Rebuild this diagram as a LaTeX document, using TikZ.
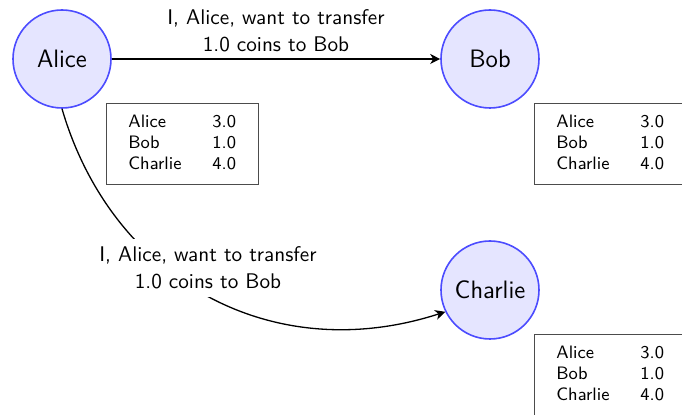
\documentclass[tikz,border=0pt]{standalone}
\usetikzlibrary{arrows.meta}
\begin{document}
\begin{tikzpicture}[x=0.5pt,y=-0.5pt,
  party/.style={circle, draw=blue!70, fill=blue!10, line width=0.8pt,
    minimum size=49pt, inner sep=0pt, font=\sffamily\fontsize{12.6}{15}\selectfont},
  ledgerbox/.style={draw=black!70, line width=0.5pt, minimum width=76pt,
    minimum height=40.5pt, inner sep=0pt, anchor=north west},
  ledgertext/.style={anchor=west, inner sep=0pt,
    font=\sffamily\fontsize{9}{10.5}\selectfont},
  msg/.style={align=center, inner sep=2pt,
    font=\sffamily\fontsize{10.6}{13.5}\selectfont},
  transfer/.style={line width=0.65pt, -{Stealth[length=5pt,width=5pt,inset=1.5pt]}}
]
\useasboundingbox (0,0) rectangle (682,415);
\clip (0,0) rectangle (682,415);

\newcommand{\ledger}{%
  \begin{tabular}{@{}p{42pt}@{}l@{}}
    Alice & 3.0\\
    Bob & 1.0\\
    Charlie & 4.0
  \end{tabular}}

% participants
\node[party] (alice) at (62,59) {Alice};
\node[party] (bob) at (490,59) {Bob};
\node[party] (charlie) at (490,290) {Charlie};

% local ledgers
\node[ledgerbox] (ledA) at (106,103) {};
\node[ledgertext] (ledAt) at ([xshift=11pt]ledA.west) {\ledger};
\node[ledgerbox] (ledB) at (534,103) {};
\node[ledgertext] (ledBt) at ([xshift=11pt]ledB.west) {\ledger};
\node[ledgerbox] (ledC) at (534,334) {};
\node[ledgertext] (ledCt) at ([xshift=11pt]ledC.west) {\ledger};

% transfer messages
\draw[transfer] (alice) -- node[msg, above, yshift=1pt] (msgB)
  {I, Alice, want to transfer\\1.0 coins to Bob} (bob);

\coordinate (c1) at (112,280);
\coordinate (c2) at (272,368);
\draw[transfer] (alice.south) .. controls (c1) and (c2) .. (charlie.206);
\node[msg, fill=white, inner ysep=4pt] (msgC) at (208,268)
  {I, Alice, want to transfer\\1.0 coins to Bob};
\end{tikzpicture}
\end{document}
